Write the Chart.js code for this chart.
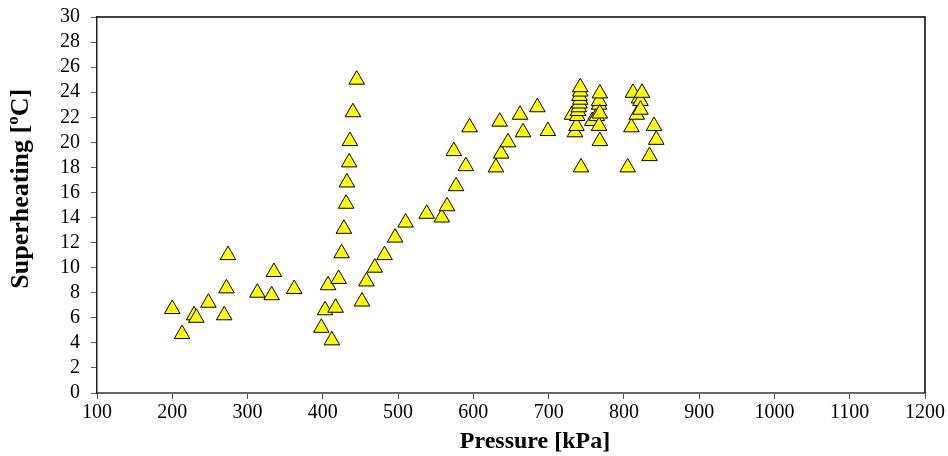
<!DOCTYPE html>
<html>
<head>
<meta charset="utf-8">
<script src="https://cdn.jsdelivr.net/npm/chart.js@4/dist/chart.umd.min.js"></script>
<style>
html,body{margin:0;padding:0;background:#fff;}
#wrap{width:948px;height:456px;position:relative;}
</style>
</head>
<body>
<div id="wrap"><canvas id="c" width="948" height="456"></canvas></div>
<script>
// Pressure [kPa]
const pressure = [
  200,213,229,232,248,269,272,274,313,332,335,362,
  398,403,407,412,417,421,425,428,431,432,435,436,440,445,
  452,458,469,482,496,510,538,558,565,574,577,590,595,630,635,637,646,662,666,685,699,
  731,735,737,738,739,740,741,742,741,742,742,743,
  758,764,767,767,767,768,768,768,
  805,810,812,817,820,822,822,824,834,840,843
];
// Superheating [°C]
const superheat = [
  6.7,4.7,6.2,6.0,7.2,6.2,8.35,11.0,8.0,7.8,9.65,8.3,
  5.2,6.6,8.6,4.2,6.8,9.1,11.15,13.1,15.1,16.8,18.4,20.1,22.4,25.0,
  7.3,8.9,10.0,11.0,12.4,13.6,14.3,14.0,14.9,19.3,16.5,18.1,21.2,18.0,21.65,19.1,20.0,22.2,20.8,22.8,20.9,
  22.2,20.8,21.3,22.1,22.5,22.8,23.1,23.4,23.7,24.05,24.4,18.0,
  21.7,22.1,21.3,23.0,23.3,23.9,20.1,22.3,
  18.0,21.2,23.95,22.2,23.5,23.3,22.6,23.95,18.9,21.3,20.2
];
const xTicks = [100,200,300,400,500,600,700,800,900,1000,1100,1200];
const yTicks = [0,2,4,6,8,10,12,14,16,18,20,22,24,26,28,30];

const points = pressure.map((p,i)=>({x:p,y:superheat[i]}));

const frame = {
  id:'frame',
  afterDraw(chart){
    const {ctx, chartArea:a} = chart;
    ctx.save();
    ctx.strokeStyle = '#000';
    ctx.lineWidth = 1.5;
    ctx.beginPath();
    ctx.moveTo(a.left, a.top);
    ctx.lineTo(a.right, a.top);
    ctx.lineTo(a.right, a.bottom);
    ctx.stroke();
    ctx.restore();
  }
};

const serif = "'Liberation Serif','Times New Roman',serif";

new Chart(document.getElementById('c'), {
  type:'scatter',
  data:{datasets:[{
    data:points,
    pointStyle:'triangle',
    radius:9,
    hoverRadius:9,
    backgroundColor:'#ffff00',
    borderColor:'#000',
    borderWidth:1
  }]},
  options:{
    responsive:false,
    animation:false,
    events:[],
    layout:{padding:{top:17,right:23,left:0,bottom:0}},
    plugins:{legend:{display:false},tooltip:{enabled:false}},
    scales:{
      x:{
        type:'linear',min:100,max:1200,
        afterBuildTicks(s){ s.ticks = xTicks.map(v=>({value:v})); },
        afterFit(s){ s.height = 63; s.paddingLeft = 0; s.paddingRight = 0; },
        ticks:{color:'#000',font:{family:serif,size:20},padding:2,maxRotation:0,autoSkip:false,callback:v=>String(v)},
        grid:{drawOnChartArea:false,drawTicks:true,tickLength:6,color:'#555'},
        border:{display:true,color:'#666',width:2},
        title:{display:true,text:'        Pressure [kPa]',color:'#000',font:{family:serif,size:24,weight:'bold'},padding:{top:0,bottom:0}}
      },
      y:{
        type:'linear',min:0,max:30,
        afterBuildTicks(s){ s.ticks = yTicks.map(v=>({value:v})); },
        afterFit(s){ s.width = 97; s.paddingTop = 0; s.paddingBottom = 0; },
        ticks:{color:'#000',font:{family:serif,size:20},padding:11,autoSkip:false,callback:v=>String(v)},
        grid:{drawOnChartArea:false,drawTicks:true,tickLength:6,color:'#555'},
        border:{display:true,color:'#222',width:1.5},
        title:{display:true,text:'     Superheating [ºC]',color:'#000',font:{family:serif,size:26,weight:'bold'},padding:{top:6,bottom:0}}
      }
    }
  },
  plugins:[frame]
});
</script>
</body>
</html>
